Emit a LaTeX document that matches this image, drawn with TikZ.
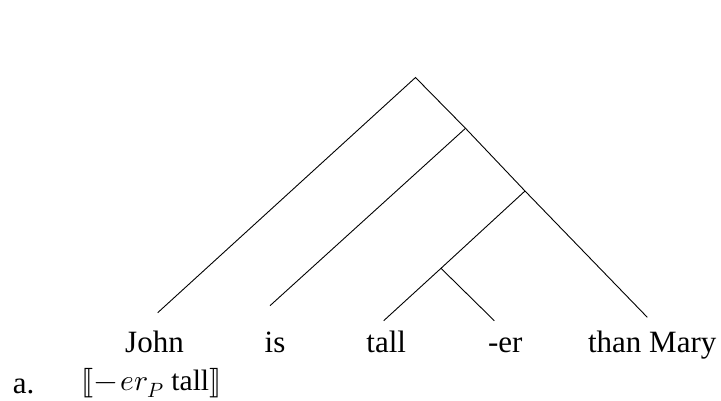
\documentclass[tikz,border=0pt]{standalone}
\usepackage{unicode-math}
\setmainfont{Liberation Serif}
\setmathfont{Latin Modern Math}
\begin{document}
\begin{tikzpicture}[x=1pt,y=-1pt,
  branch/.style={line width=0.9pt},
  word/.style={anchor=base,inner sep=0pt,font=\fontsize{31}{37}\selectfont}]
\useasboundingbox (0,0) rectangle (721,401);
% internal points
\coordinate (apex) at (415.5,77.5);
\coordinate (n2) at (465.5,128.3);
\coordinate (n3) at (525,191);
\coordinate (n4) at (441,268.3);
% leaf ends
\coordinate (eJohn) at (157.7,312.7);
\coordinate (eIs) at (270,305.7);
\coordinate (eTall) at (383.7,320.7);
\coordinate (eEr) at (494.3,320.7);
\coordinate (eMary) at (647.3,317.3);
% words
\node[word] (John) at (154.5,352.7) {John};
\node[word] (is) at (275,352.7) {is};
\node[word] (tall) at (386.2,352.7) {tall};
\node[word] (er) at (505.2,352.7) {-er};
\node[word] (Mary) at (652.2,352.7) {than Mary};
% branches
\draw[branch] (eJohn) -- (apex) -- (n2) -- (n3) -- (eMary);
\draw[branch] (n2) -- (eIs);
\draw[branch] (n3) -- (n4) -- (eTall);
\draw[branch] (n4) -- (eEr);
% example line
\node[word,anchor=base west] (lab) at (12.7,393) {a.};
\node[word,anchor=base west,font=\fontsize{29.5}{34}\selectfont] (ex) at (81.7,390) {$\lBrack {-}\mskip2mu er_P\ \mathrm{tall}\rBrack$};
\end{tikzpicture}
\end{document}
